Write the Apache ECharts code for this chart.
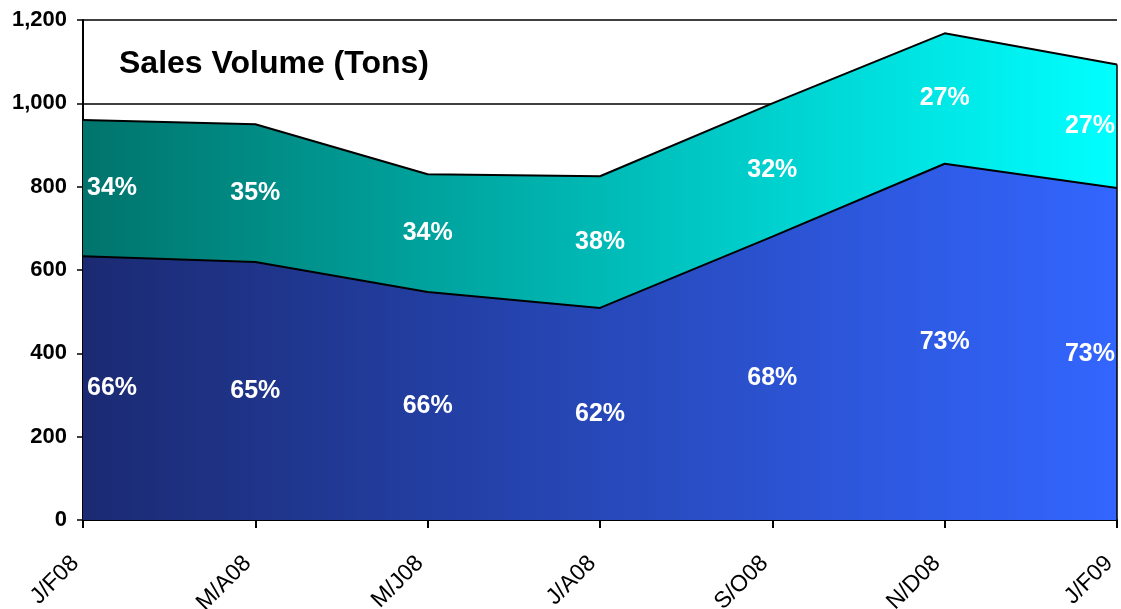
<!DOCTYPE html>
<html><head><meta charset="utf-8">
<script src="https://cdn.jsdelivr.net/npm/echarts@6/dist/echarts.min.js"></script>
<style>html,body{margin:0;padding:0;background:#fff}#c{width:1121px;height:609px}</style>
</head><body><div id="c"></div>
<script>
const categories = ['J/F08','M/A08','M/J08','J/A08','S/O08','N/D08','J/F09'];
const lowerValues = [633, 619, 547, 509, 680, 855, 797];
const upperValues = [327, 331, 283, 316, 320, 313, 296];
const yTicks = [0, 200, 400, 600, 800, 1000, 1200];

const totals = lowerValues.map((v, i) => v + upperValues[i]);
const pct = (a, t) => Math.round(a / t * 100) + '%';
const n = categories.length;
function labelData(vals, pcts) {
  return vals.map((v, i) => {
    const d = { value: [categories[i], v], pctText: pcts[i] };
    if (i === 0) d.label = { align: 'left', offset: [4, 0] };
    if (i === n - 1) d.label = { align: 'right', offset: [-2, 0] };
    return d;
  });
}
const lowerLabels = labelData(lowerValues.map(v => v / 2), lowerValues.map((v, i) => pct(v, totals[i])));
const upperLabels = labelData(lowerValues.map((v, i) => v + upperValues[i] / 2), upperValues.map((v, i) => pct(v, totals[i])));

const chart = echarts.init(document.getElementById('c'));
const font = 'Liberation Sans, Arial, sans-serif';
const labelStyle = { show: true, position: 'inside', color: '#ffffff', fontWeight: 'bold', fontSize: 25, fontFamily: font,
  textBorderWidth: 0, textBorderColor: 'transparent', textShadowBlur: 0, opacity: 1,
  formatter: p => p.data.pctText };
chart.setOption({
  animation: false,
  grid: { left: 83, right: 4, top: 20, bottom: 89, containLabel: false, outerBoundsMode: 'none' },
  title: { text: 'Sales Volume (Tons)', left: 114, top: 43,
    textStyle: { fontSize: 32, fontWeight: 'bold', color: '#000', fontFamily: font } },
  xAxis: {
    type: 'category', data: categories, boundaryGap: false,
    axisLine: { lineStyle: { color: '#000', width: 2 } },
    axisTick: { show: true, alignWithLabel: true, length: 8, lineStyle: { color: '#000', width: 2 } },
    axisLabel: { rotate: 45, color: '#000', fontSize: 23, fontFamily: font, margin: 32, interval: 0,
      padding: [0, 11, 0, 0] },
    splitLine: { show: false }
  },
  yAxis: {
    type: 'value', min: yTicks[0], max: yTicks[yTicks.length - 1], interval: 200,
    axisLine: { show: true, lineStyle: { color: '#000', width: 2 } },
    axisTick: { show: true, length: 6, lineStyle: { color: '#000', width: 1.5 } },
    axisLabel: { color: '#000', fontWeight: 'bold', fontSize: 22, fontFamily: font, margin: 16,
      formatter: v => v.toLocaleString('en-US') },
    splitLine: { show: true, lineStyle: { color: '#000', width: 1.5 } }
  },
  series: [
    { type: 'line', stack: 'vol', data: lowerValues, symbol: 'none',
      lineStyle: { color: '#000', width: 2 },
      areaStyle: { opacity: 1, color: new echarts.graphic.LinearGradient(0, 0, 1, 0,
        [{ offset: 0, color: '#1b2a72' }, { offset: 1, color: '#3366ff' }]) } },
    { type: 'line', stack: 'vol', data: upperValues, symbol: 'none',
      lineStyle: { color: '#000', width: 2 },
      areaStyle: { opacity: 1, color: new echarts.graphic.LinearGradient(0, 0, 1, 0,
        [{ offset: 0, color: '#00746c' }, { offset: 1, color: '#00ffff' }]) },
      markLine: { symbol: 'none', silent: true, label: { show: false },
        lineStyle: { color: '#000', width: 1.5, type: 'solid' },
        data: [[{ coord: [categories[n - 1], 0] }, { coord: [categories[n - 1], totals[n - 1]] }]] } },
    { type: 'scatter', data: lowerLabels, symbolSize: 0, label: labelStyle, z: 5, itemStyle: { opacity: 1 } },
    { type: 'scatter', data: upperLabels, symbolSize: 0, label: labelStyle, z: 5, itemStyle: { opacity: 1 } }
  ]
});
</script></body></html>
